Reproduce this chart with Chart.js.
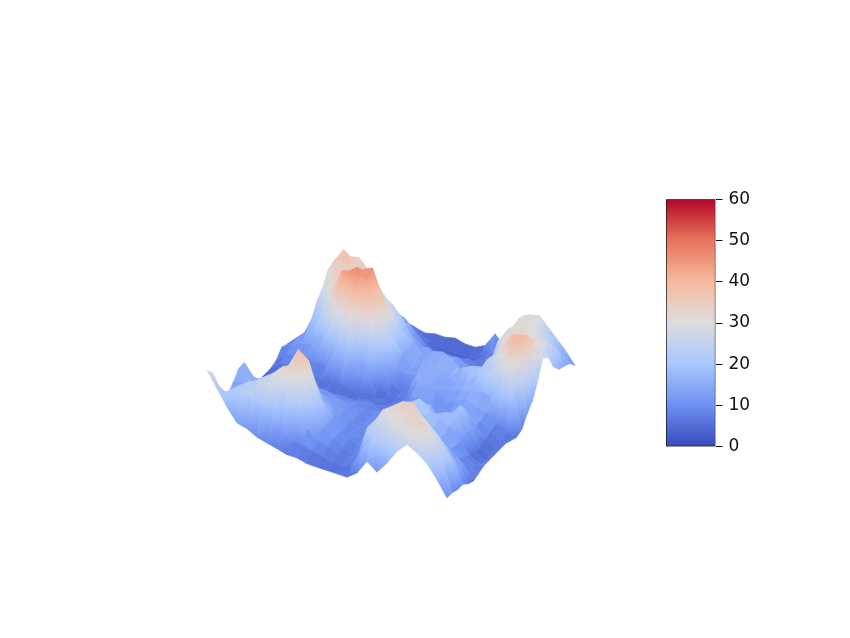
<!DOCTYPE html>
<html>
<head>
<meta charset="utf-8">
<script src="https://cdn.jsdelivr.net/npm/chart.js@4"></script>
<style>
  html, body { margin: 0; padding: 0; background: #fff; }
  #surface { position: absolute; left: 0; top: 0; }
  #colorbar { position: absolute; left: 650px; top: 183px; }
</style>
</head>
<body>
<canvas id="surface" width="850" height="638"></canvas>
<canvas id="colorbar" width="120" height="280"></canvas>
<script>
// Height: one row per step along the front-left side,
// one column per step along the front-right side
const row00 = [29, 26, 19, 14, 11, 14, 17, 17, 10, 5, 4, 4, 4, 5, 8, 7, 5, 4, 4, 5, 4, 4, 5, 5, 6];
const row01 = [23, 19, 16, 15, 14, 15, 15, 12, 9, 7, 5, 5, 7, 9, 10, 11, 9, 8, 9, 13, 14, 15, 12, 10, 9];
const row02 = [17, 22, 21, 17, 16, 16, 15, 13, 11, 9, 7, 6, 8, 9, 12, 15, 18, 23, 26, 31, 32, 29, 22, 18, 13];
const row03 = [12, 22, 24, 22, 20, 19, 17, 15, 12, 9, 7, 6, 7, 10, 13, 19, 24, 30, 33, 36, 38, 33, 27, 20, 15];
const row04 = [11, 21, 26, 25, 22, 21, 18, 15, 13, 9, 7, 6, 7, 9, 15, 25, 32, 33, 33, 35, 35, 34, 28, 22, 16];
const row05 = [9, 19, 26, 28, 25, 24, 19, 17, 13, 11, 8, 6, 6, 9, 24, 37, 41, 36, 34, 33, 34, 30, 25, 16, 8];
const row06 = [8, 15, 28, 32, 30, 27, 20, 16, 14, 10, 8, 5, 5, 17, 28, 44, 42, 39, 34, 31, 26, 23, 16, 12, 8];
const row07 = [7, 12, 25, 34, 38, 33, 21, 16, 12, 11, 7, 5, 7, 18, 38, 47, 44, 41, 35, 31, 25, 19, 14, 9, 6];
const row08 = [6, 9, 18, 30, 35, 26, 16, 14, 11, 10, 8, 5, 6, 12, 31, 43, 46, 36, 31, 26, 22, 16, 13, 8, 5];
const row09 = [6, 9, 13, 19, 22, 17, 14, 11, 12, 9, 8, 5, 5, 13, 29, 37, 36, 31, 26, 23, 17, 14, 9, 6, 4];
const row10 = [5, 8, 10, 13, 13, 13, 11, 12, 10, 10, 8, 7, 5, 5, 14, 25, 21, 22, 19, 17, 12, 10, 6, 4, 5];
const row11 = [5, 7, 9, 10, 10, 9, 10, 9, 10, 8, 9, 6, 6, 5, 8, 12, 16, 15, 16, 12, 10, 6, 4, 3, 5];
const row12 = [5, 6, 7, 8, 9, 8, 9, 8, 8, 9, 7, 7, 5, 6, 6, 11, 11, 14, 12, 13, 8, 6, 4, 3, 6];
const row13 = [5, 6, 7, 6, 8, 9, 9, 11, 11, 10, 9, 7, 8, 7, 11, 12, 15, 14, 15, 11, 10, 7, 4, 3, 5];
const row14 = [5, 8, 9, 11, 9, 10, 12, 14, 15, 12, 12, 9, 11, 13, 17, 15, 17, 13, 16, 12, 9, 7, 4, 3, 5];
const row15 = [8, 15, 22, 21, 15, 11, 13, 17, 17, 16, 13, 11, 12, 15, 13, 14, 14, 18, 14, 13, 9, 8, 5, 4, 7];
const row16 = [14, 22, 27, 28, 20, 15, 15, 20, 20, 18, 13, 12, 10, 14, 12, 15, 14, 15, 11, 10, 8, 6, 7, 8, 13];
const row17 = [11, 24, 30, 31, 25, 19, 17, 19, 23, 19, 16, 11, 9, 11, 13, 14, 18, 12, 11, 8, 7, 6, 7, 8, 9];
const row18 = [16, 28, 32, 34, 28, 21, 18, 20, 19, 16, 11, 10, 11, 12, 15, 16, 20, 15, 14, 13, 11, 9, 9, 11, 10];
const row19 = [22, 31, 33, 35, 29, 21, 16, 17, 18, 18, 15, 13, 12, 15, 15, 20, 21, 22, 20, 25, 24, 23, 20, 18, 18];
const row20 = [26, 32, 34, 30, 26, 20, 15, 15, 16, 19, 20, 16, 14, 13, 17, 21, 25, 26, 30, 31, 30, 31, 30, 28, 24];
const row21 = [24, 34, 30, 27, 22, 17, 13, 11, 11, 12, 13, 11, 11, 12, 16, 27, 32, 32, 32, 33, 31, 32, 31, 29, 24];
const row22 = [21, 27, 26, 23, 17, 13, 10, 9, 7, 6, 6, 7, 8, 9, 21, 32, 38, 35, 34, 31, 30, 27, 25, 22, 20];
const row23 = [16, 21, 22, 17, 13, 11, 7, 7, 5, 4, 4, 5, 5, 7, 24, 39, 39, 37, 32, 31, 27, 25, 21, 17, 16];
const row24 = [10, 10, 9, 9, 7, 6, 7, 8, 8, 8, 8, 8, 7, 6, 7, 11, 14, 20, 27, 25, 19, 16, 15, 14, 11];

const heights = [row00, row01, row02, row03, row04, row05, row06, row07, row08, row09, row10, row11, row12,
  row13, row14, row15, row16, row17, row18, row19, row20, row21, row22, row23, row24];

const barTicks = [0, 10, 20, 30, 40, 50, 60];
const zMax = 60;

// coolwarm, one colour per 10 units of height
const cmap = [[59, 76, 192], [111, 146, 243], [170, 199, 253], [221, 220, 220], [247, 184, 156], [231, 116, 91], [180, 4, 38]];

function zColor(z) {
  const t = Math.min(Math.max(z / zMax, 0), 1) * (cmap.length - 1);
  const k = Math.min(Math.floor(t), cmap.length - 2);
  const f = t - k;
  const rgb = cmap[k].map((c, n) => Math.round(c + (cmap[k + 1][n] - c) * f));
  return `rgb(${rgb[0]},${rgb[1]},${rgb[2]})`;
}

// Oblique view of the grid, in page pixels
const steps = heights.length - 1;
function project(i, j) {
  const u = i / steps;
  const v = j / steps;
  return {
    x: 207 + 240 * u + 128 * v,
    y: 443 + 80 * u - 130 * v - 2.5 * heights[i][j]
  };
}

// Colour a quad from its lowest corner to its highest one, flat when it is nearly level
function quadPaint(ctx, corners) {
  const zs = corners.map(c => heights[c[0]][c[1]]);
  const lo = zs.indexOf(Math.min(...zs));
  const hi = zs.indexOf(Math.max(...zs));
  if (zs[hi] - zs[lo] < 6) {
    return zColor((zs[0] + zs[1] + zs[2] + zs[3]) / 4);
  }
  const a = project(corners[lo][0], corners[lo][1]);
  const b = project(corners[hi][0], corners[hi][1]);
  const g = ctx.createLinearGradient(a.x, a.y, b.x, b.y);
  for (let s = 0; s <= 4; s++) {
    g.addColorStop(s / 4, zColor(zs[lo] + (zs[hi] - zs[lo]) * s / 4));
  }
  return g;
}

// Chart.js paints the last dataset first, so the nearest quads go in first
function buildQuads(ctx) {
  const datasets = [];
  for (let i = steps - 1; i >= 0; i--) {
    for (let j = 0; j < steps; j++) {
      const corners = [[i, j], [i + 1, j], [i + 1, j + 1], [i, j + 1], [i, j]];
      const paint = quadPaint(ctx, corners.slice(0, 4));
      datasets.push({
        data: corners.map(c => project(c[0], c[1])),
        showLine: true,
        fill: 'shape',
        backgroundColor: paint,
        borderColor: paint,
        borderWidth: 0.6,
        pointRadius: 0,
        tension: 0,
        clip: false
      });
    }
  }
  return datasets;
}

const surfaceCtx = document.getElementById('surface').getContext('2d');
new Chart(surfaceCtx, {
  type: 'scatter',
  data: { datasets: buildQuads(surfaceCtx) },
  options: {
    responsive: false,
    animation: false,
    events: [],
    layout: { padding: 0 },
    plugins: { legend: { display: false }, tooltip: { enabled: false } },
    scales: {
      x: { type: 'linear', display: false, min: 0, max: 850 },
      y: { type: 'linear', display: false, min: 0, max: 638, reverse: true }
    }
  }
});

// Colour bar
const barCtx = document.getElementById('colorbar').getContext('2d');
const barFill = barCtx.createLinearGradient(0, 262, 0, 16);
barTicks.forEach((t, n) => barFill.addColorStop(n / (barTicks.length - 1), zColor(t)));

new Chart(barCtx, {
  type: 'bar',
  data: {
    labels: [''],
    datasets: [{
      data: [[barTicks[0], barTicks[barTicks.length - 1]]],
      backgroundColor: barFill,
      borderColor: '#111',
      borderWidth: 1,
      borderSkipped: false,
      barPercentage: 1,
      categoryPercentage: 1
    }]
  },
  options: {
    responsive: false,
    animation: false,
    events: [],
    layout: { padding: { left: 16, top: 12, bottom: 12, right: 0 } },
    plugins: { legend: { display: false }, tooltip: { enabled: false } },
    scales: {
      x: { display: false },
      y: {
        position: 'right',
        min: 0,
        max: 60,
        afterFit: scale => { scale.width = 54.5; },
        border: { display: false },
        grid: { drawOnChartArea: false, drawTicks: true, tickLength: 7, tickColor: '#111' },
        ticks: {
          stepSize: 10,
          padding: 6,
          color: '#111',
          font: { family: 'DejaVu Sans', size: 17 }
        }
      }
    }
  }
});
</script>
</body>
</html>
